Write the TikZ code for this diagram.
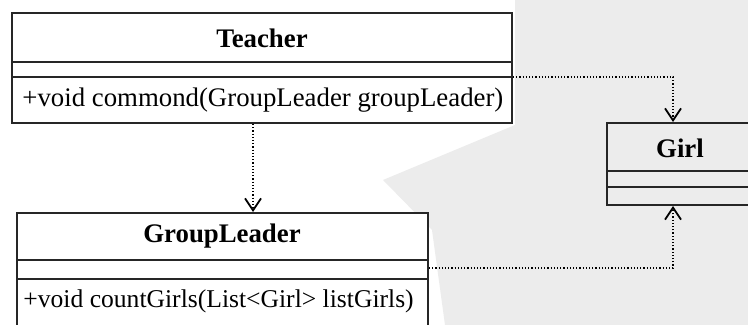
\documentclass[tikz,border=0pt]{standalone}
\usepackage{fontspec}
\setmainfont{Liberation Serif}
\usetikzlibrary{arrows.meta,fit}
\begin{document}
\begin{tikzpicture}[x=0.5pt,y=-0.5pt,
    classbox/.style={draw=black!85, line width=1pt, inner sep=0pt},
    sepline/.style={draw=black!85, line width=1pt},
    classname/.style={font=\fontsize{13.4}{16}\selectfont\bfseries},
    method/.style={font=\fontsize{13.4}{16}\selectfont, anchor=west, inner sep=0pt},
    dep/.style={densely dotted, line width=0.6pt,
      -{Straight Barb[length=6pt,width=8pt,line width=0.9pt]}}]
  \useasboundingbox (0,0) rectangle (748,325);
  \clip (0,0) rectangle (748,325);
  \fill[white] (0,0) rectangle (748,325);
  \fill[gray!15] (515,0) -- (748,0) -- (748,325) -- (445,325) -- (432,230)
    -- (383,180) -- (515,125) -- cycle;
  % classes
  \node[classbox, fill=white, fit={(12,13) (512,123)}] (teacher) {};
  \draw[sepline] (teacher.west |- 0,62) -- (teacher.east |- 0,62);
  \draw[sepline] (teacher.west |- 0,77) -- (teacher.east |- 0,77);
  \node[classname] (teachername) at (262,38) {Teacher};
  \node[method] (commond) at (22,100) {+void commond(GroupLeader groupLeader)};

  \node[classbox, fill=white, fit={(17,213) (428,345)}] (leader) {};
  \draw[sepline] (leader.west |- 0,260) -- (leader.east |- 0,260);
  \draw[sepline] (leader.west |- 0,279) -- (leader.east |- 0,279);
  \node[classname] (leadername) at (222,236) {GroupLeader};
  \node[method, font=\fontsize{12.8}{16}\selectfont] (countgirls) at (23,301)
    {+void countGirls(List<Girl> listGirls)};

  \node[classbox, fit={(607,123) (753,205)}] (girl) {};
  \draw[sepline] (girl.west |- 0,171) -- (girl.east |- 0,171);
  \draw[sepline] (girl.west |- 0,187) -- (girl.east |- 0,187);
  \node[classname] (girlname) at (680,148) {Girl};
  % dependencies
  \draw[dep] (teacher.south -| 253,0) -- (leader.north -| 253,0);
  \draw[dep] (teacher.east |- 0,77) -| (girl.north -| 673,0);
  \draw[dep] (leader.east |- 0,268) -| (girl.south -| 673,0);
\end{tikzpicture}
\end{document}
